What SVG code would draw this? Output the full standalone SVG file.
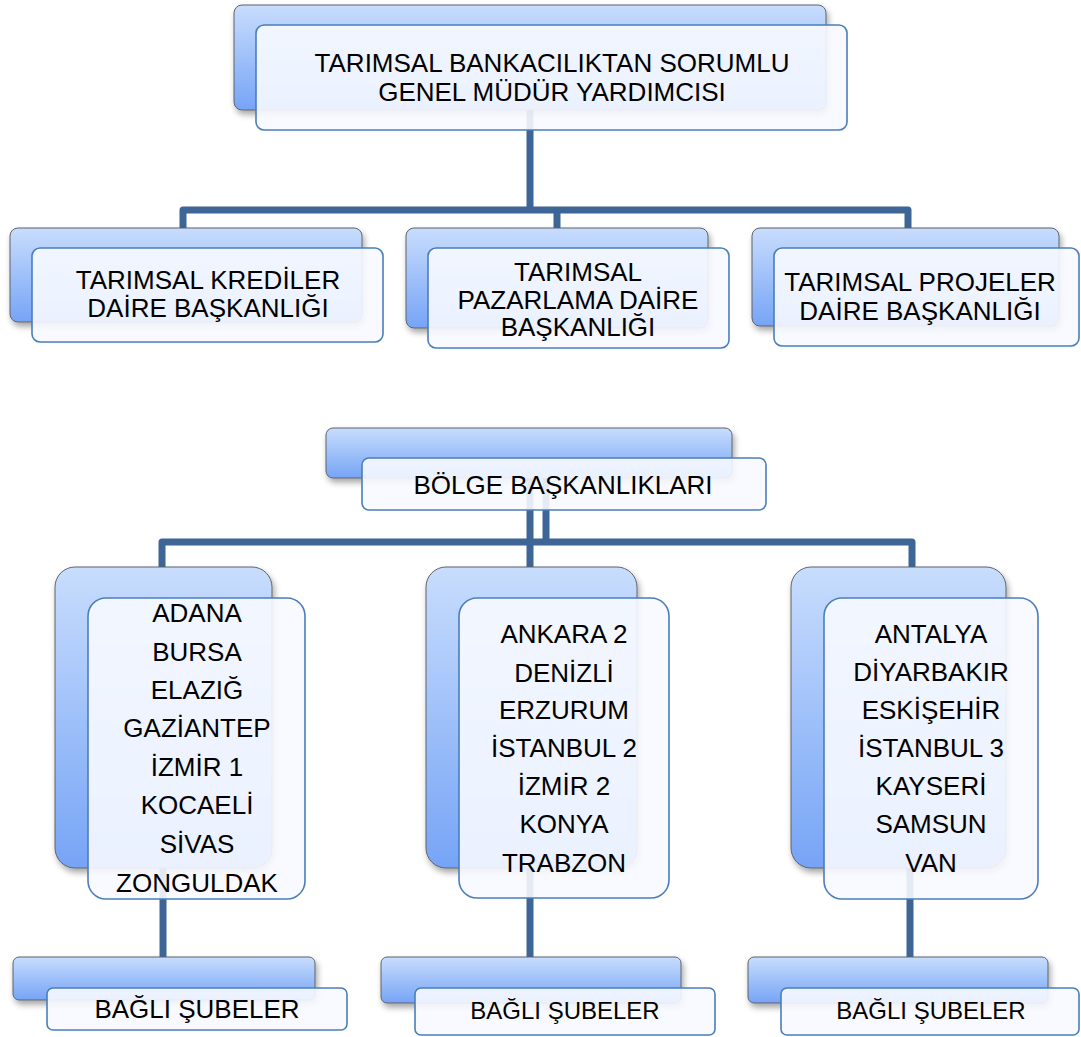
<svg xmlns="http://www.w3.org/2000/svg" width="1081" height="1037" viewBox="0 0 1081 1037">
<defs>
<linearGradient id="blueGrad" x1="0" y1="0" x2="0" y2="1">
<stop offset="0" stop-color="#c8ddfd"/>
<stop offset="1" stop-color="#76a4f6"/>
</linearGradient>
<filter id="shadow" x="-10%" y="-10%" width="125%" height="140%">
<feDropShadow dx="2" dy="4" stdDeviation="3" flood-color="#000" flood-opacity="0.35"/>
</filter>
<style>
.back{fill:url(#blueGrad);stroke:#5f6368;stroke-width:1;filter:url(#shadow)}
.front{fill:#f7faff;fill-opacity:0.9;stroke:#4a7ebb;stroke-width:1.6}
.conn{fill:none;stroke:#3d6595;stroke-width:7;stroke-linejoin:round}
text{font-family:"Liberation Sans",Arial,sans-serif;fill:#000;text-anchor:middle}
.t{font-size:26px}
.c{font-size:26px}
.s{font-size:24px}
</style>
</defs>
<rect width="1081" height="1037" fill="#fff"/>
<g id="connectors">
<path class="conn" d="M530,110 V210"/>
<path class="conn" d="M183,232 V210 H908 V232"/>
<path class="conn" d="M557,210 V232"/>
<path class="conn" d="M530,478 V570"/>
<path class="conn" d="M546,478 V542"/>
<path class="conn" d="M162,570 V542 H912 V570"/>
<path class="conn" d="M163,868 V958"/>
<path class="conn" d="M530,868 V958"/>
<path class="conn" d="M910,868 V958"/>
</g>
<g id="node-gmy">
<rect class="back" x="234" y="5" width="592" height="105" rx="8"/>
<rect class="front" x="256" y="25" width="591" height="105" rx="8"/>
<text class="t" x="552" y="72">TARIMSAL BANKACILIKTAN SORUMLU</text>
<text class="t" x="552" y="101">GENEL MÜDÜR YARDIMCISI</text>
</g>
<g id="node-krediler">
<rect class="back" x="10" y="228" width="352" height="94" rx="8"/>
<rect class="front" x="32" y="248" width="351" height="94" rx="8"/>
<text class="t" x="208" y="289">TARIMSAL KREDİLER</text>
<text class="t" x="208" y="317">DAİRE BAŞKANLIĞI</text>
</g>
<g id="node-pazarlama">
<rect class="back" x="406" y="228" width="302" height="100" rx="8"/>
<rect class="front" x="428" y="248" width="301" height="100" rx="8"/>
<text class="t" x="578" y="281">TARIMSAL</text>
<text class="t" x="578" y="309">PAZARLAMA DAİRE</text>
<text class="t" x="578" y="336">BAŞKANLIĞI</text>
</g>
<g id="node-projeler">
<rect class="back" x="752" y="228" width="307" height="98" rx="8"/>
<rect class="front" x="774" y="248" width="305" height="98" rx="8"/>
<text class="t" x="920" y="291">TARIMSAL PROJELER</text>
<text class="t" x="920" y="320">DAİRE BAŞKANLIĞI</text>
</g>
<g id="node-bolge">
<rect class="back" x="326" y="428" width="406" height="50" rx="7"/>
<rect class="front" x="362" y="458" width="404" height="52" rx="7"/>
<text class="t" x="563" y="494">BÖLGE BAŞKANLIKLARI</text>
</g>
<g id="node-bolge1">
<rect class="back" x="55" y="567" width="217" height="301" rx="20"/>
<rect class="front" x="88" y="598" width="217" height="301" rx="18"/>
<text class="c" x="197" y="622">ADANA</text>
<text class="c" x="197" y="661">BURSA</text>
<text class="c" x="197" y="699">ELAZIĞ</text>
<text class="c" x="197" y="737">GAZİANTEP</text>
<text class="c" x="197" y="776">İZMİR 1</text>
<text class="c" x="197" y="814">KOCAELİ</text>
<text class="c" x="197" y="853">SİVAS</text>
<text class="c" x="197" y="892">ZONGULDAK</text>
</g>
<g id="node-bolge2">
<rect class="back" x="426" y="567" width="211" height="301" rx="20"/>
<rect class="front" x="459" y="598" width="210" height="300" rx="18"/>
<text class="c" x="564" y="643">ANKARA 2</text>
<text class="c" x="564" y="682">DENİZLİ</text>
<text class="c" x="564" y="719">ERZURUM</text>
<text class="c" x="564" y="757">İSTANBUL 2</text>
<text class="c" x="564" y="795">İZMİR 2</text>
<text class="c" x="564" y="833">KONYA</text>
<text class="c" x="564" y="872">TRABZON</text>
</g>
<g id="node-bolge3">
<rect class="back" x="791" y="567" width="215" height="301" rx="20"/>
<rect class="front" x="824" y="598" width="214" height="301" rx="18"/>
<text class="c" x="931" y="643">ANTALYA</text>
<text class="c" x="931" y="681">DİYARBAKIR</text>
<text class="c" x="931" y="719">ESKİŞEHİR</text>
<text class="c" x="931" y="757">İSTANBUL 3</text>
<text class="c" x="931" y="795">KAYSERİ</text>
<text class="c" x="931" y="833">SAMSUN</text>
<text class="c" x="931" y="872">VAN</text>
</g>
<g id="node-sube1">
<rect class="back" x="13" y="957" width="302" height="43" rx="6"/>
<rect class="front" x="47" y="988" width="300" height="42" rx="6"/>
<text class="c" x="197" y="1018">BAĞLI ŞUBELER</text>
</g>
<g id="node-sube2">
<rect class="back" x="381" y="957" width="300" height="46" rx="6"/>
<rect class="front" x="415" y="988" width="300" height="47" rx="6"/>
<text class="s" x="565" y="1019">BAĞLI ŞUBELER</text>
</g>
<g id="node-sube3">
<rect class="back" x="748" y="957" width="300" height="46" rx="6"/>
<rect class="front" x="781" y="988" width="298" height="47" rx="6"/>
<text class="s" x="931" y="1019">BAĞLI ŞUBELER</text>
</g>
</svg>
